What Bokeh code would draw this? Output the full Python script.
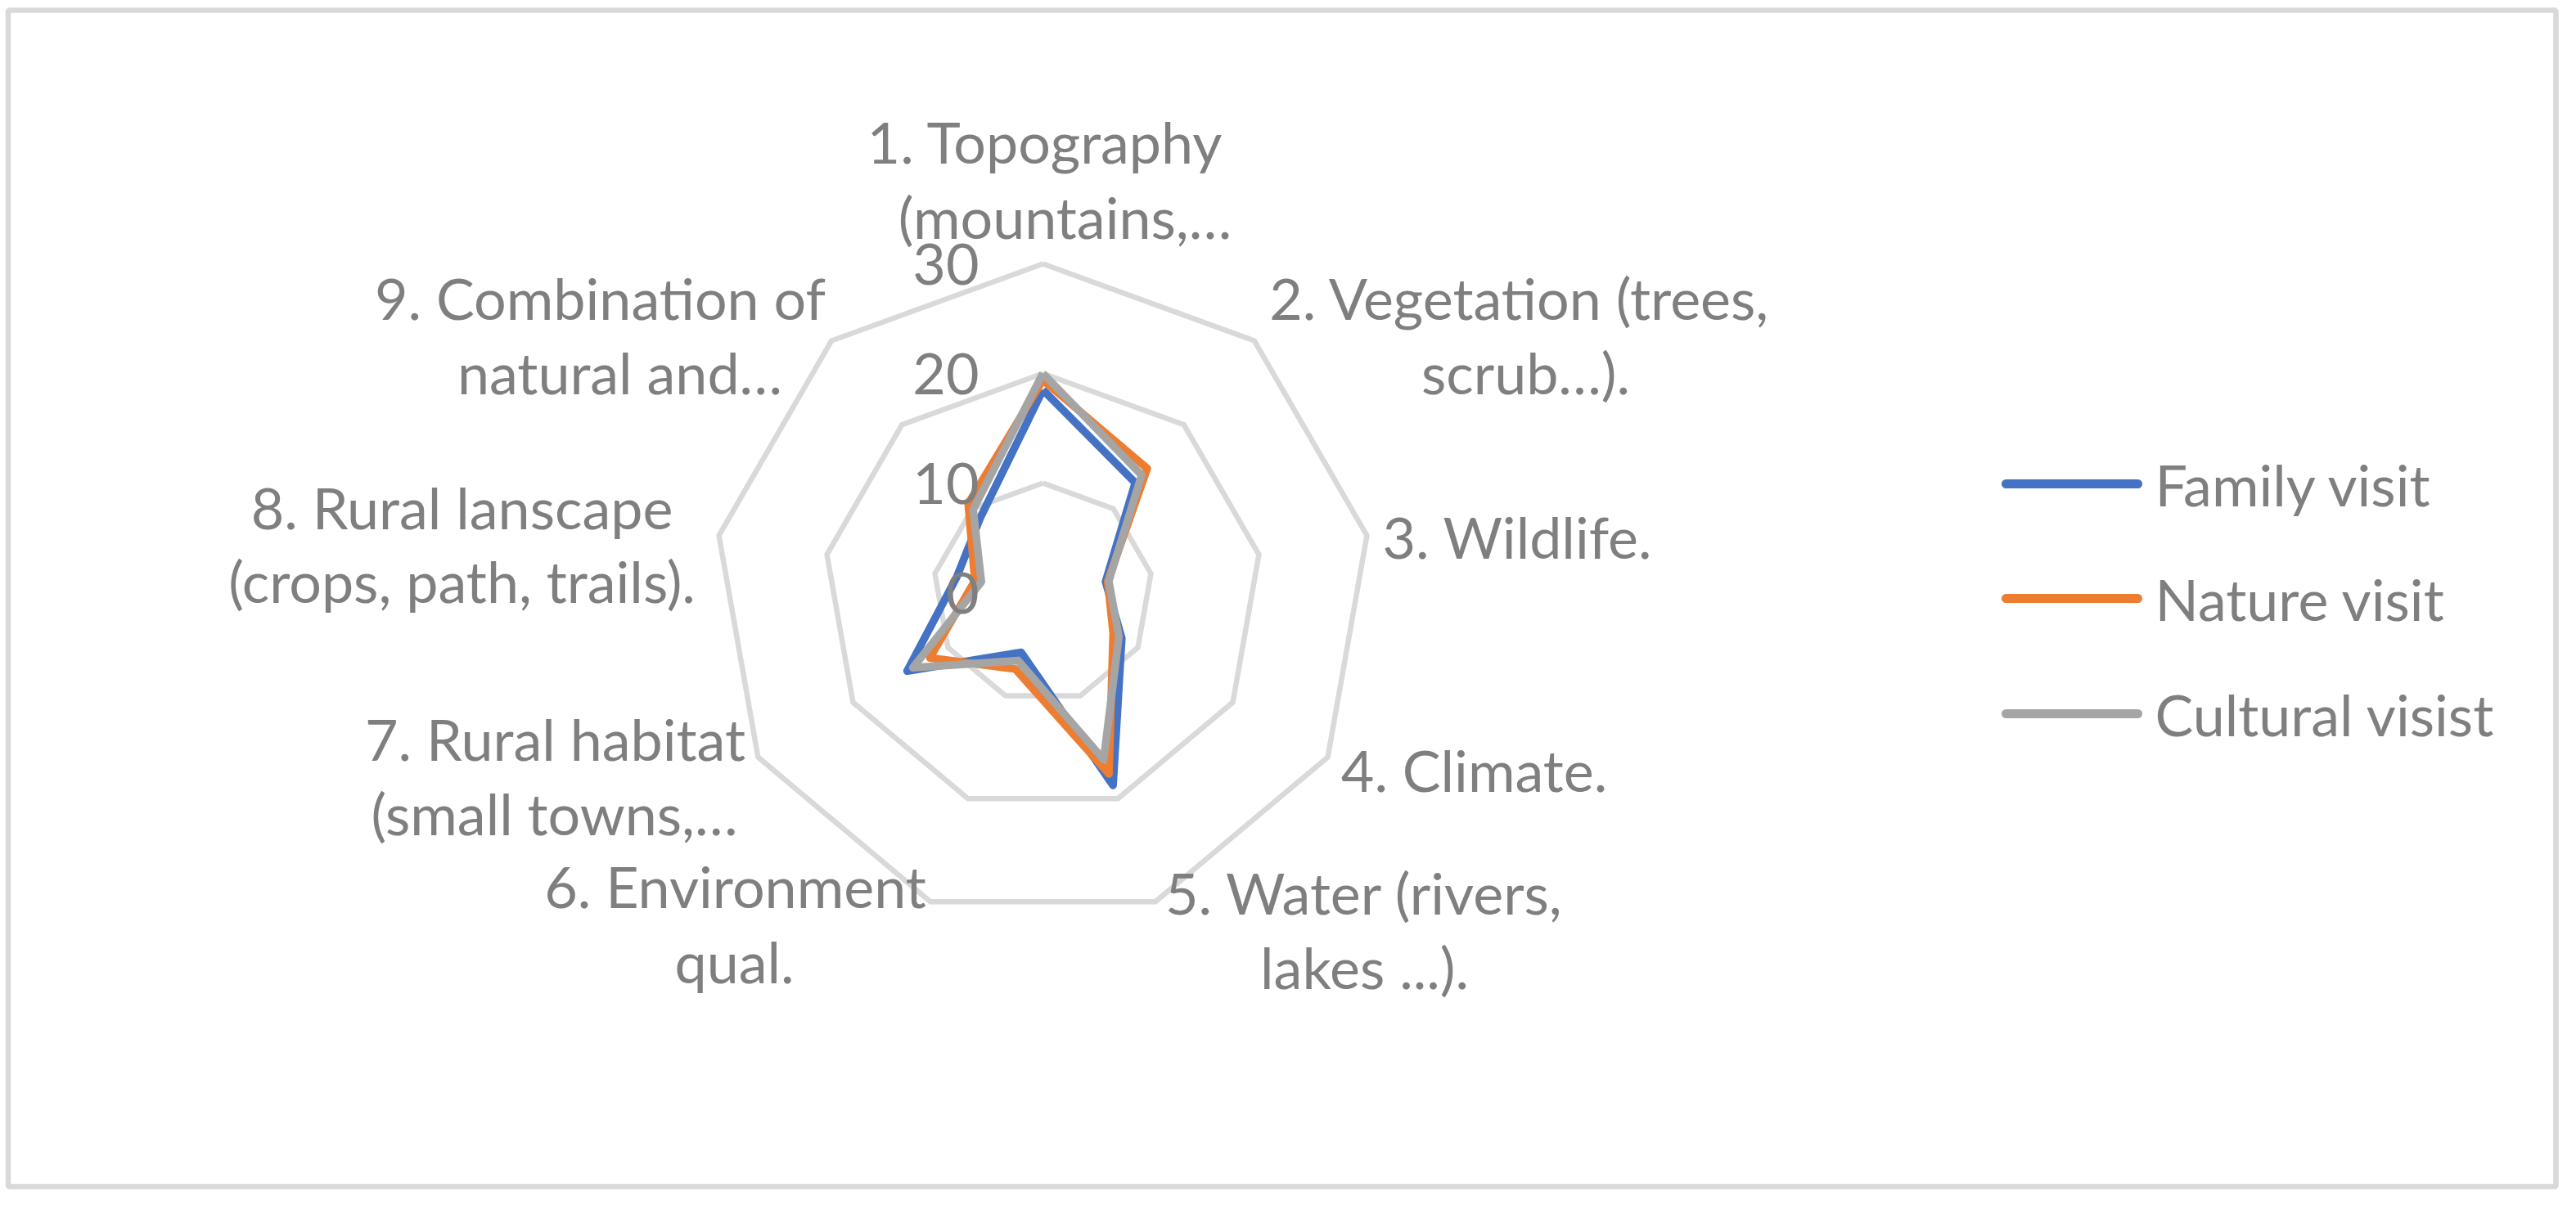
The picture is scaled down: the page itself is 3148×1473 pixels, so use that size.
import math
from bokeh.plotting import figure
from bokeh.models import Range1d
from bokeh.core.properties import value
from bokeh.embed import file_html
from bokeh.resources import INLINE

# ---------------- data ----------------
label_lines = [
    ["1. Topography", "(mountains,…"],
    ["2. Vegetation (trees,", "scrub…)."],
    ["3. Wildlife."],
    ["4. Climate."],
    ["5. Water (rivers,", "lakes ...)."],
    ["6. Environment", "qual."],
    ["7. Rural habitat", "(small towns,…"],
    ["8. Rural lanscape", "(crops, path, trails)."],
    ["9. Combination of", "natural and…"],
]
family = [18.5, 13.1, 5.8, 8.3, 18.7, 5.8, 14.3, 8.0, 8.9]
nature = [19.4, 14.8, 6.0, 7.4, 17.6, 7.4, 11.9, 6.3, 10.6]
cultural = [20.0, 14.0, 6.1, 8.0, 16.2, 6.6, 13.7, 5.7, 9.9]
series_names = ["Family visit", "Nature visit", "Cultural visist"]
ticks = [0, 10, 20, 30]

# ---------------- layout ----------------
W, H = 3132, 1457
OFF = 8
CX, CY = 1282, 732          # radar centre (page px)
S = 13.4                    # px per value unit
FONT = "Lato"
FS = "70px"
TXT = "#7f7f7f"
GRID = "#d9d9d9"
COLORS = ["#4472C4", "#ED7D31", "#A5A5A5"]

def px(X):
    return (X - CX) / S

def py(Y):
    return (CY - Y) / S

# label line anchors (page px): (centre x, baseline y)
label_pos = [
    [(1285, 180), (1309, 272)],
    [(1865, 371), (1872, 462)],
    [(1862, 663)],
    [(1809, 948)],
    [(1675, 1098), (1675, 1189)],
    [(906, 1090), (905, 1182)],
    [(686, 910), (685, 1001)],
    [(572, 627), (572, 717)],
    [(741, 371), (765, 462)],
]

p = figure(
    width=W, height=H,
    x_range=Range1d(px(OFF), px(OFF + W)),
    y_range=Range1d(py(OFF + H), py(OFF)),
    x_axis_type=None, y_axis_type=None,
    output_backend="svg", toolbar_location=None,
    min_border=0,
)
p.grid.visible = False
p.outline_line_color = None
p.background_fill_color = "white"
p.border_fill_color = "white"

# chart border
p.quad(left=[px(17.5)], right=[px(3131)], top=[py(20)], bottom=[py(1458)],
       fill_color=None, line_color=GRID, line_width=6.5)

n = len(family)
angles = [math.radians(360.0 * k / n) for k in range(n)]

def polar(vals):
    xs = [v * math.sin(a) for v, a in zip(vals, angles)]
    ys = [v * math.cos(a) for v, a in zip(vals, angles)]
    return xs + xs[:1], ys + ys[:1]

# grid rings
for t in ticks[1:]:
    xs, ys = polar([t] * n)
    p.line(xs, ys, line_color=GRID, line_width=6.5, line_join="miter")

# series
for vals, c in zip([family, nature, cultural], COLORS):
    xs, ys = polar(vals)
    p.line(xs, ys, line_color=c, line_width=9.5, line_join="round")

# tick labels
p.text(x=[px(1204)] * len(ticks), y=ticks, text=[str(t) for t in ticks],
       text_align="right", text_baseline="middle",
       text_font=value(FONT), text_font_size=FS, text_color=TXT)

# category labels
lx, ly, lt = [], [], []
for lines, poss in zip(label_lines, label_pos):
    for s, (X, Y) in zip(lines, poss):
        lx.append(px(X)); ly.append(py(Y)); lt.append(s)
p.text(x=lx, y=ly, text=lt, text_align="center", text_baseline="alphabetic",
       text_font=value(FONT), text_font_size=FS, text_color=TXT)

# legend
leg_y = [599, 739, 880]
for name, c, Y in zip(series_names, COLORS, leg_y):
    p.line([px(2459), px(2620)], [py(Y), py(Y)], line_color=c, line_width=11,
           line_cap="round")
    p.text(x=[px(2641)], y=[py(Y)], text=[name], text_align="left",
           text_baseline="middle", text_font=value(FONT), text_font_size=FS,
           text_color=TXT)

open("out.html", "w").write(file_html(p, INLINE))
